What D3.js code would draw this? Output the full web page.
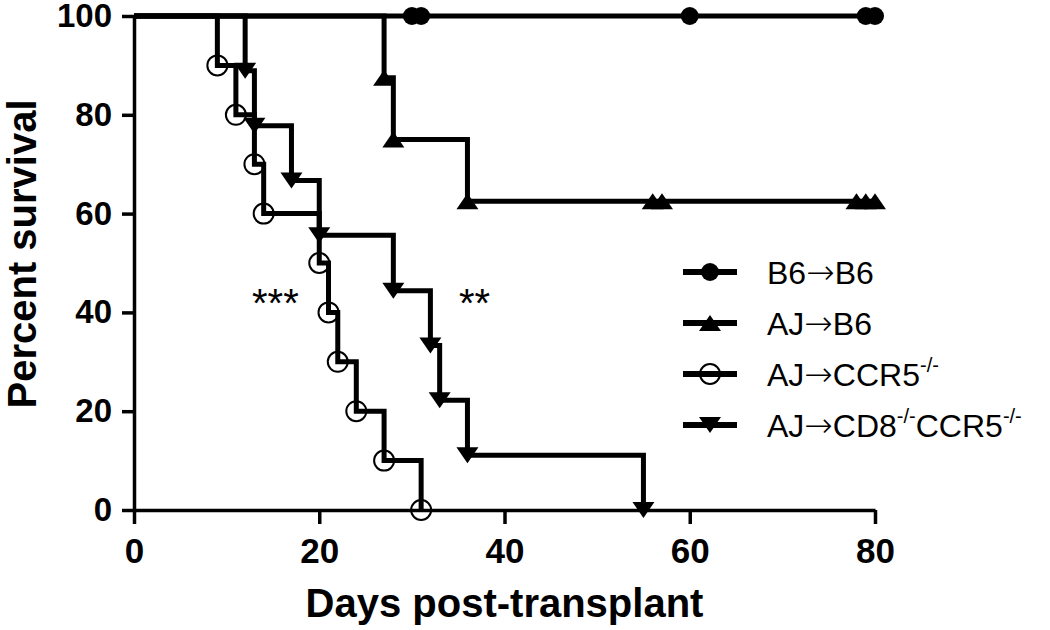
<!DOCTYPE html>
<html>
<head>
<meta charset="utf-8">
<script src="https://cdn.jsdelivr.net/npm/d3@7"></script>
<style>
  body { margin: 0; background: #fff; }
  svg { display: block; font-family: "Liberation Sans", Arial, sans-serif; }
</style>
</head>
<body>
<svg id="chart" width="1050" height="630"></svg>
<script>
// survival data (day, percent surviving), symbols at each step / censor
let b6Days = [30, 31, 60, 79, 80];
let b6Surv = [100, 100, 100, 100, 100];

let ajB6Days = [27, 28, 36, 56, 57, 78, 79, 80];
let ajB6Surv = [87.5, 75, 62.5, 62.5, 62.5, 62.5, 62.5, 62.5];

let ccr5Days = [9, 11, 13, 14, 20, 21, 22, 24, 27, 31];
let ccr5Surv = [90, 80, 70, 60, 50, 40, 30, 20, 10, 0];

let cd8Days = [12, 13, 17, 20, 28, 32, 33, 36, 55];
let cd8Surv = [88.9, 77.8, 66.7, 55.6, 44.4, 33.3, 22.2, 11.1, 0];

let xTicks = [0, 20, 40, 60, 80];
let yTicks = [0, 20, 40, 60, 80, 100];

// legend labels: [text, kind] where kind is "t" text, "a" arrow, "s" superscript
let legendLabels = [
  [["B6", "t"], ["\u2192", "a"], ["B6", "t"]],
  [["AJ", "t"], ["\u2192", "a"], ["B6", "t"]],
  [["AJ", "t"], ["\u2192", "a"], ["CCR5", "t"], ["-/-", "s"]],
  [["AJ", "t"], ["\u2192", "a"], ["CD8", "t"], ["-/-", "s"], ["CCR5", "t"], ["-/-", "s"]]
];
let markerTypes = ["dot", "up", "ring", "down"];

let series = [
  { days: b6Days, surv: b6Surv },
  { days: ajB6Days, surv: ajB6Surv },
  { days: ccr5Days, surv: ccr5Surv },
  { days: cd8Days, surv: cd8Surv }
];

let svg = d3.select("#chart");
let margin = { left: 134, right: 175, top: 16, bottom: 120 };
let width = 1050 - margin.left - margin.right;
let height = 630 - margin.top - margin.bottom;

let x = d3.scaleLinear().domain([0, 80]).range([0, width]);
let y = d3.scaleLinear().domain([0, 100]).range([height, 0]);

let g = svg.append("g").attr("transform", "translate(" + margin.left + "," + margin.top + ")");

// axes
let xAxis = g.append("g")
  .attr("transform", "translate(0," + height + ")")
  .call(d3.axisBottom(x).tickValues(xTicks).tickSize(14).tickSizeOuter(0).tickPadding(14));
let yAxis = g.append("g")
  .call(d3.axisLeft(y).tickValues(yTicks).tickSize(12).tickSizeOuter(0).tickPadding(10));

[xAxis, yAxis].forEach(function (a) {
  a.selectAll("path, line").attr("stroke", "#000").attr("stroke-width", 3.5);
  a.selectAll("text").attr("fill", "#000").style("font-weight", "bold");
});
xAxis.selectAll("text").style("font-size", "35px");
yAxis.selectAll("text").style("font-size", "33px");

// axis titles
svg.append("text")
  .attr("x", margin.left + width / 2)
  .attr("y", 617)
  .attr("text-anchor", "middle")
  .style("font-size", "40px")
  .style("font-weight", "bold")
  .text("Days post-transplant");

svg.append("text")
  .attr("transform", "translate(36,254) rotate(-90)")
  .attr("text-anchor", "middle")
  .style("font-size", "40px")
  .style("font-weight", "bold")
  .text("Percent survival");

// step curves
let line = d3.line()
  .x(function (d) { return x(d[0]); })
  .y(function (d) { return y(d[1]); })
  .curve(d3.curveStepAfter);

series.forEach(function (s) {
  let pts = [[0, 100]].concat(s.days.map(function (d, i) { return [d, s.surv[i]]; }));
  g.append("path")
    .attr("d", line(pts))
    .attr("fill", "none")
    .attr("stroke", "#000")
    .attr("stroke-width", 5)
    .attr("stroke-linejoin", "miter");
});

function drawMarker(sel, type, cx, cy) {
  if (type === "dot") {
    sel.append("circle").attr("cx", cx).attr("cy", cy).attr("r", 9).attr("fill", "#000");
  } else if (type === "ring") {
    sel.append("circle").attr("cx", cx).attr("cy", cy).attr("r", 10)
      .attr("fill", "none").attr("stroke", "#000").attr("stroke-width", 2);
  } else {
    let w = 11, h = 8, k = type === "up" ? 1 : -1;
    sel.append("path")
      .attr("d", "M" + (cx - w) + "," + (cy + k * h) + "L" + (cx + w) + "," + (cy + k * h) +
        "L" + cx + "," + (cy - k * h) + "Z")
      .attr("fill", "#000");
  }
}

series.forEach(function (s, si) {
  s.days.forEach(function (d, i) {
    drawMarker(g, markerTypes[si], x(d), y(s.surv[i]));
  });
});

// significance stars
svg.append("text").attr("x", 252).attr("y", 317).style("font-size", "40px").text("***");
svg.append("text").attr("x", 459).attr("y", 317).style("font-size", "40px").text("**");

// legend
let legend = svg.append("g").attr("transform", "translate(683,272)");
legendLabels.forEach(function (parts, i) {
  let row = legend.append("g").attr("transform", "translate(0," + (i * 51) + ")");
  row.append("line").attr("x1", 0).attr("x2", 54).attr("y1", 0).attr("y2", 0)
    .attr("stroke", "#000").attr("stroke-width", 6);
  drawMarker(row, markerTypes[i], 27, 0);
  let t = row.append("text").attr("x", 84).attr("y", 11.5).style("font-size", "32px");
  let raised = false;
  parts.forEach(function (p) {
    let ts = t.append("tspan").text(p[0]);
    if (p[1] === "s") {
      ts.attr("dy", -14).style("font-size", "20px");
      raised = true;
    } else {
      if (raised) { ts.attr("dy", 14); raised = false; }
      if (p[1] === "a") {
        ts.style("font-family", "'DejaVu Sans', sans-serif").style("font-size", "34px")
          .style("font-weight", "200");
      }
    }
  });
});
</script>
</body>
</html>
